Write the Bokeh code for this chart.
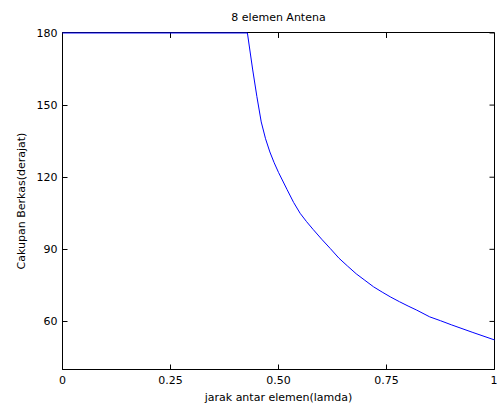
import math
from bokeh.plotting import figure
from bokeh.models import Range1d, FixedTicker
from bokeh.embed import file_html
from bokeh.resources import INLINE

# element spacing (in wavelengths) and beam coverage (degrees)
spacing = [0.0, 0.428, 0.44, 0.45, 0.46, 0.47, 0.48, 0.49, 0.50, 0.52, 0.535, 0.55,
           0.565, 0.58, 0.60, 0.62, 0.64, 0.66, 0.68, 0.70, 0.72, 0.74, 0.76, 0.78,
           0.80, 0.82, 0.85, 0.875, 0.90, 0.95, 1.00]
coverage = [180, 180, 165, 153.5, 143, 136, 130.5, 126, 122, 114.8, 109.5, 105,
            101.5, 98.3, 94.2, 90.3, 86.3, 83.0, 79.8, 77.1, 74.4, 72.2, 70.1, 68.2,
            66.4, 64.7, 61.9, 60.3, 58.6, 55.4, 52.3]

x_ticks = [0, 0.25, 0.5, 0.75, 1]
x_tick_labels = ["0", "0.25", "0.50", "0.75", "1"]
y_ticks = [60, 90, 120, 150, 180]

FONT = "DejaVu Sans"
FS = "11px"

p = figure(width=497, height=406, output_backend="svg", toolbar_location=None,
           x_range=Range1d(0, 1), y_range=Range1d(40, 180.2),
           title="8 elemen Antena",
           min_border_left=62, min_border_right=3, min_border_top=32, min_border_bottom=34)

p.title.align = "center"
p.title.text_font = FONT
p.title.text_font_size = FS
p.title.text_font_style = "normal"
p.title.text_color = "black"
p.title.standoff = 17

p.background_fill_color = "white"
p.border_fill_color = "white"
p.outline_line_color = "black"
p.outline_line_width = 1
p.xgrid.visible = False
p.ygrid.visible = False

p.line(spacing, coverage, line_color="#0000ff", line_width=1, level="overlay")

# inward ticks on the top and right edges of the box
p.ray(x=x_ticks, y=[y_ticks[-1]] * len(x_ticks), length=5, length_units="screen",
      angle=-math.pi / 2, line_color="black", line_width=1)
p.ray(x=[x_ticks[-1]] * len(y_ticks), y=y_ticks, length=5, length_units="screen",
      angle=math.pi, line_color="black", line_width=1)

def style(ax, standoff, label_standoff):
    ax.axis_line_color = "black"
    ax.major_tick_line_color = "black"
    ax.major_tick_in = 5
    ax.major_tick_out = 0
    ax.minor_tick_line_color = None
    ax.major_label_text_font = FONT
    ax.major_label_text_font_size = FS
    ax.major_label_text_color = "black"
    ax.major_label_standoff = standoff
    ax.axis_label_text_font = FONT
    ax.axis_label_text_font_size = FS
    ax.axis_label_text_font_style = "normal"
    ax.axis_label_text_color = "black"
    ax.axis_label_standoff = label_standoff

xa = p.xaxis[0]
xa.ticker = FixedTicker(ticks=x_ticks)
xa.major_label_overrides = {t: s for t, s in zip(x_ticks, x_tick_labels)}
xa.axis_label = "jarak antar elemen(lamda)"
style(xa, 6, 4)

ya = p.yaxis[0]
ya.ticker = FixedTicker(ticks=y_ticks)
ya.axis_label = "Cakupan Berkas(derajat)"
style(ya, 5, 6)

open("out.html", "w").write(file_html(p, INLINE))
